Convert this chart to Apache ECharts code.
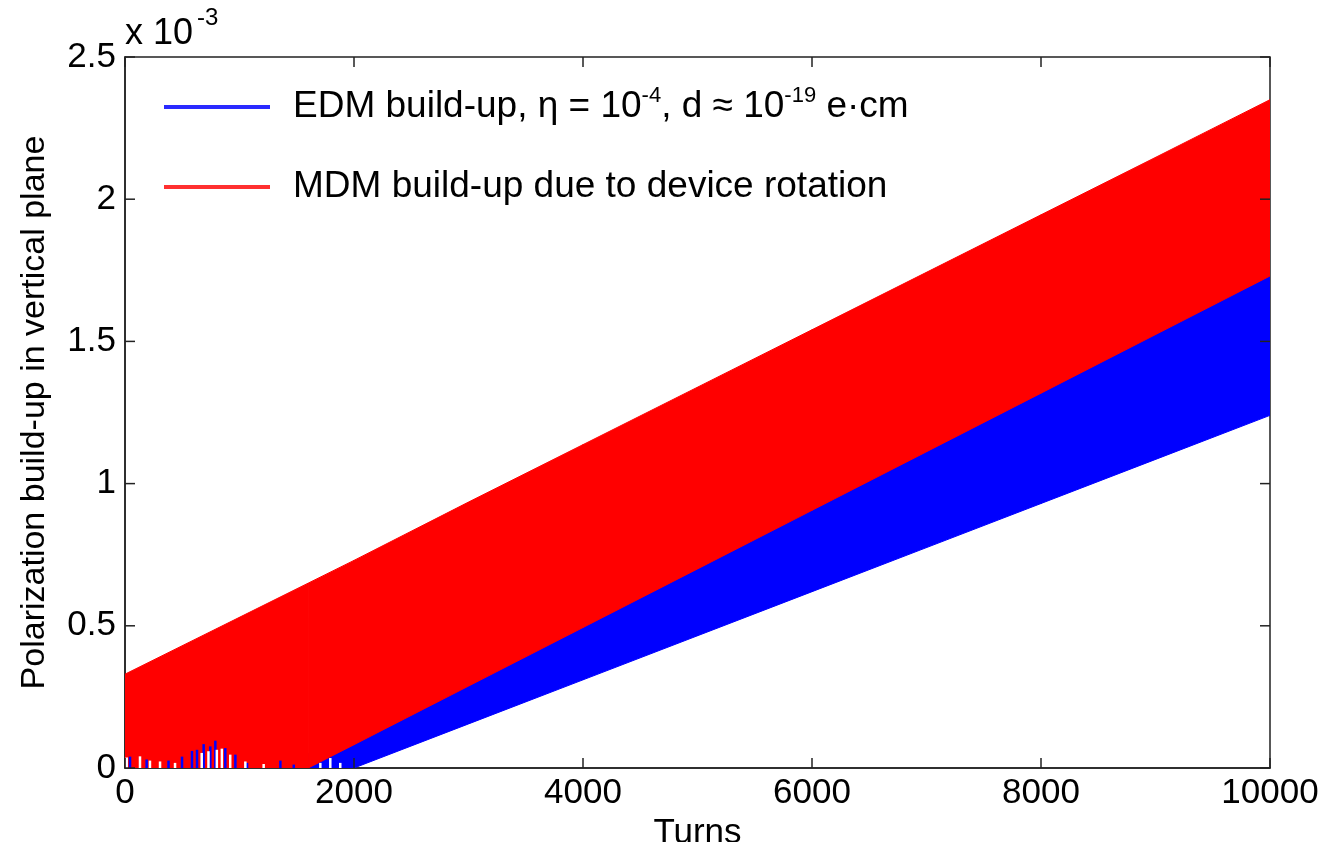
<!DOCTYPE html>
<html>
<head>
<meta charset="utf-8">
<script src="https://cdn.jsdelivr.net/npm/echarts@6/dist/echarts.min.js"></script>
<style>
  html, body { margin: 0; padding: 0; background: #fff; }
  #chart { width: 1326px; height: 842px; }
</style>
</head>
<body>
<div id="chart"></div>
<script>
// envelopes, values in units of 1e-3
var turns      = [0, 1000, 1600, 2000, 3000, 4000, 5000, 6000, 7000, 8000, 9000, 10000];
var mdmUpper   = [0.33, 0.53, 0.65, 0.73, 0.935, 1.137, 1.339, 1.541, 1.743, 1.945, 2.147, 2.35];
var mdmLower   = [0, 0, 0, 0.082, 0.288, 0.494, 0.700, 0.906, 1.112, 1.318, 1.524, 1.73];
var edmUpper   = [0.05, 0.05, 0.05, 0.09, 0.30, 0.50, 0.71, 0.92, 1.12, 1.33, 1.53, 1.74];
var edmLower   = [0, 0, 0, 0, 0.155, 0.31, 0.465, 0.62, 0.775, 0.93, 1.085, 1.24];

// small spikes near zero where the red trace dips (blue shows through / white gaps)
var blueSpikeTurns  = [44, 189, 380, 498, 585, 629, 687, 745, 789, 876, 964, 1066, 1357, 1474];
var blueSpikeHeight = [0.04, 0.03, 0.026, 0.04, 0.06, 0.064, 0.084, 0.076, 0.096, 0.07, 0.047, 0.018, 0.026, 0.012];
var whiteSpikeTurns  = [15, 131, 218, 306, 437, 670, 729, 802, 846, 919, 1051, 1211, 1706, 1793, 1880];
var whiteSpikeHeight = [0.037, 0.041, 0.026, 0.023, 0.018, 0.053, 0.059, 0.064, 0.068, 0.047, 0.023, 0.014, 0.018, 0.035, 0.018];

var xTicks = [0, 2000, 4000, 6000, 8000, 10000];
var yTicks = [0, 0.5, 1, 1.5, 2, 2.5];
var xMax = 10000, yMax = 2.5;

var edmName = 'EDM build-up, η = 10{s|-4}, d ≈ 10{s|-19} e·cm';
var mdmName = 'MDM build-up due to device rotation';

function bandData(lower, upper) {
  return turns.map(function (t, i) { return [t, lower[i], upper[i]]; });
}

// one quad per segment between neighbouring samples
function bandRenderer(lower, upper, color) {
  return function (params, api) {
    var i = params.dataIndex;
    if (i >= turns.length - 1) return null;
    var pts = [
      api.coord([turns[i], lower[i]]),
      api.coord([turns[i + 1], lower[i + 1]]),
      api.coord([turns[i + 1], upper[i + 1]]),
      api.coord([turns[i], upper[i]])
    ];
    return {
      type: 'polygon',
      shape: { points: pts },
      style: { fill: color, stroke: color, lineWidth: 1 }
    };
  };
}

function spikeRenderer(color) {
  return function (params, api) {
    var p0 = api.coord([api.value(0), 0]);
    var p1 = api.coord([api.value(0), api.value(1)]);
    return {
      type: 'line',
      shape: { x1: p0[0], y1: p0[1], x2: p1[0], y2: p1[1] },
      style: { stroke: color, lineWidth: 2.5 }
    };
  };
}

function spikeData(ts, hs) {
  return ts.map(function (t, i) { return [t, hs[i]]; });
}

// matlab style inward ticks on all four sides
var tickLen = 10;
var tickStyle = { stroke: '#222', lineWidth: 1.5 };
function xTickRenderer(params, api) {
  var b = api.coord([api.value(0), 0]);
  var t = api.coord([api.value(0), yMax]);
  return { type: 'group', children: [
    { type: 'line', shape: { x1: b[0], y1: b[1], x2: b[0], y2: b[1] - tickLen }, style: tickStyle },
    { type: 'line', shape: { x1: t[0], y1: t[1], x2: t[0], y2: t[1] + tickLen }, style: tickStyle }
  ] };
}
function yTickRenderer(params, api) {
  var l = api.coord([0, api.value(1)]);
  var r = api.coord([xMax, api.value(1)]);
  return { type: 'group', children: [
    { type: 'line', shape: { x1: l[0], y1: l[1], x2: l[0] + tickLen, y2: l[1] }, style: tickStyle },
    { type: 'line', shape: { x1: r[0], y1: r[1], x2: r[0] - tickLen, y2: r[1] }, style: tickStyle }
  ] };
}

var chart = echarts.init(document.getElementById('chart'));
var font = 'Liberation Sans';
var axisLine = { show: true, lineStyle: { color: '#222', width: 1.5 } };

var option = {
  animation: false,
  backgroundColor: '#fff',
  grid: { left: 125, right: 56, top: 57, bottom: 74, show: true, borderColor: '#222', borderWidth: 1.5,
    containLabel: false, outerBoundsMode: 'none' },
  legend: {
    orient: 'vertical',
    left: 159,
    top: 80,
    itemGap: 36,
    itemWidth: 106,
    itemHeight: 4,
    icon: 'rect',
    selectedMode: false,
    data: [
      { name: edmName, itemStyle: { color: '#2a2aff' } },
      { name: mdmName, itemStyle: { color: '#ff3030' } }
    ],
    textStyle: {
      fontFamily: font,
      fontSize: 37,
      color: '#000',
      padding: [0, 0, 0, 18],
      lineHeight: 44,
      rich: {
        s: { fontFamily: font, fontSize: 22, verticalAlign: 'top', lineHeight: 44, padding: [0, 0, 20, 0] }
      }
    }
  },
  xAxis: {
    type: 'value', min: 0, max: xMax, interval: 2000,
    name: 'Turns', nameLocation: 'middle', nameGap: 42,
    nameTextStyle: { fontFamily: font, fontSize: 35, color: '#000' },
    axisLine: axisLine, axisTick: { show: false }, splitLine: { show: false },
    axisLabel: { fontFamily: font, fontSize: 35, color: '#000', margin: 8,
      formatter: function (v) { return String(v); } }
  },
  yAxis: {
    type: 'value', min: 0, max: yMax, interval: 0.5,
    name: 'Polarization build-up in vertical plane', nameLocation: 'middle', nameGap: 73,
    nameTextStyle: { fontFamily: font, fontSize: 34, color: '#000' },
    axisLine: axisLine, axisTick: { show: false }, splitLine: { show: false },
    axisLabel: { fontFamily: font, fontSize: 35, color: '#000', margin: 9,
      formatter: function (v) { return String(v); } }
  },
  graphic: [
    { type: 'text', left: 125, top: 16, style: { text: 'x 10', font: '36px ' + font, fill: '#000' } },
    { type: 'text', left: 197, top: 6, style: { text: '-3', font: '24px ' + font, fill: '#000' } }
  ],
  series: [
    {
      name: edmName, type: 'custom', clip: true,
      itemStyle: { color: '#0000ff' },
      renderItem: bandRenderer(edmLower, edmUpper, '#0000ff'),
      encode: { x: 0, y: [1, 2] },
      data: bandData(edmLower, edmUpper)
    },
    {
      name: mdmName, type: 'custom', clip: true,
      itemStyle: { color: '#ff0000' },
      renderItem: bandRenderer(mdmLower, mdmUpper, '#ff0000'),
      encode: { x: 0, y: [1, 2] },
      data: bandData(mdmLower, mdmUpper)
    },
    {
      name: 'edmSpikes', type: 'custom', clip: true, silent: true,
      renderItem: spikeRenderer('#0000ff'),
      encode: { x: 0, y: 1 },
      data: spikeData(blueSpikeTurns, blueSpikeHeight)
    },
    {
      name: 'gaps', type: 'custom', clip: true, silent: true,
      renderItem: spikeRenderer('#ffffff'),
      encode: { x: 0, y: 1 },
      data: spikeData(whiteSpikeTurns, whiteSpikeHeight)
    },
    {
      name: 'xTicks', type: 'custom', silent: true, z: 10,
      renderItem: xTickRenderer, encode: { x: 0, y: 1 },
      data: xTicks.map(function (v) { return [v, 0]; })
    },
    {
      name: 'yTicks', type: 'custom', silent: true, z: 10,
      renderItem: yTickRenderer, encode: { x: 0, y: 1 },
      data: yTicks.map(function (v) { return [0, v]; })
    }
  ]
};
chart.setOption(option);
</script>
</body>
</html>
